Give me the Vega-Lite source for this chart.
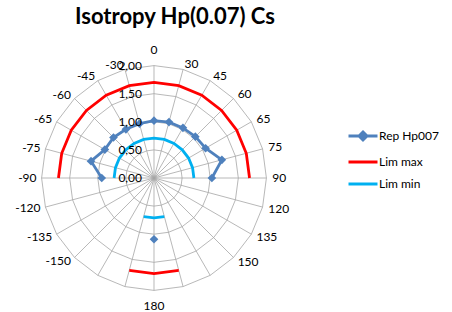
{
  "$schema": "https://vega.github.io/schema/vega-lite/v6.json",
  "width": 452,
  "height": 277,
  "padding": {"top": 35, "left": 0, "right": 0, "bottom": 0},
  "autosize": {"type": "none"},
  "background": "white",
  "title": {"text": "Isotropy Hp(0.07) Cs", "font": "Lato", "fontSize": 22, "fontWeight": "bold", "color": "#000000", "anchor": "middle", "dx": -51, "offset": 6},
  "config": {"font": "Lato", "view": {"stroke": null}},
  "data": {"values": [
    {"cat": "0", "Rep Hp007": 1.02, "Lim max": 1.7, "Lim min": 0.71},
    {"cat": "30", "Rep Hp007": 1.03, "Lim max": 1.7, "Lim min": 0.71},
    {"cat": "45", "Rep Hp007": 1.03, "Lim max": 1.7, "Lim min": 0.71},
    {"cat": "60", "Rep Hp007": 1.04, "Lim max": 1.7, "Lim min": 0.71},
    {"cat": "65", "Rep Hp007": 1.06, "Lim max": 1.7, "Lim min": 0.71},
    {"cat": "75", "Rep Hp007": 1.25, "Lim max": 1.7, "Lim min": 0.71},
    {"cat": "90", "Rep Hp007": 1.03, "Lim max": 1.7, "Lim min": 0.71},
    {"cat": "120", "Rep Hp007": null, "Lim max": null, "Lim min": null},
    {"cat": "135", "Rep Hp007": null, "Lim max": null, "Lim min": null},
    {"cat": "150", "Rep Hp007": null, "Lim max": null, "Lim min": null},
    {"cat": "", "Rep Hp007": null, "Lim max": null, "Lim min": null},
    {"cat": "", "Rep Hp007": null, "Lim max": 1.7, "Lim min": 0.71},
    {"cat": "180", "Rep Hp007": 1.09, "Lim max": 1.7, "Lim min": 0.71},
    {"cat": "", "Rep Hp007": null, "Lim max": 1.7, "Lim min": 0.71},
    {"cat": "", "Rep Hp007": null, "Lim max": null, "Lim min": null},
    {"cat": "-150", "Rep Hp007": null, "Lim max": null, "Lim min": null},
    {"cat": "-135", "Rep Hp007": null, "Lim max": null, "Lim min": null},
    {"cat": "-120", "Rep Hp007": null, "Lim max": null, "Lim min": null},
    {"cat": "-90", "Rep Hp007": 0.93, "Lim max": 1.7, "Lim min": 0.71},
    {"cat": "-75", "Rep Hp007": 1.16, "Lim max": 1.7, "Lim min": 0.71},
    {"cat": "-65", "Rep Hp007": 1.01, "Lim max": 1.7, "Lim min": 0.71},
    {"cat": "-60", "Rep Hp007": 1.02, "Lim max": 1.7, "Lim min": 0.71},
    {"cat": "-45", "Rep Hp007": 1.0, "Lim max": 1.7, "Lim min": 0.71},
    {"cat": "-30", "Rep Hp007": 1.0, "Lim max": 1.7, "Lim min": 0.71}
  ]},
  "transform": [
    {"window": [{"op": "row_number", "as": "n"}]},
    {"calculate": "(datum.n - 1) * PI / 12", "as": "ang"},
    {"calculate": "(datum.n + 5) % 24", "as": "ord"}
  ],
  "layer": [
    {
      "transform": [
        {"calculate": "[0.5, 1, 1.5, 2]", "as": "ring"},
        {"flatten": ["ring"]},
        {"calculate": "datum.ring * sin(datum.ang)", "as": "gx"},
        {"calculate": "datum.ring * cos(datum.ang)", "as": "gy"}
      ],
      "mark": {"type": "line", "interpolate": "linear-closed", "color": "#A6A6A6", "strokeWidth": 0.8},
      "encoding": {
        "x": {"field": "gx", "type": "quantitative", "scale": {"domain": [-2.7402, 5.3025], "nice": false, "zero": false}, "axis": null},
        "y": {"field": "gy", "type": "quantitative", "scale": {"domain": [-2.3843, 2.5445], "nice": false, "zero": false}, "axis": null},
        "detail": {"field": "ring"},
        "order": {"field": "n"}
      }
    },
    {
      "transform": [
        {"calculate": "2 * sin(datum.ang)", "as": "sx"},
        {"calculate": "2 * cos(datum.ang)", "as": "sy"}
      ],
      "mark": {"type": "rule", "color": "#A6A6A6", "strokeWidth": 0.8},
      "encoding": {
        "x": {"field": "sx", "type": "quantitative", "scale": {"domain": [-2.7402, 5.3025], "nice": false, "zero": false}, "axis": null},
        "y": {"field": "sy", "type": "quantitative", "scale": {"domain": [-2.3843, 2.5445], "nice": false, "zero": false}, "axis": null},
        "x2": {"datum": 0},
        "y2": {"datum": 0}
      }
    },
    {
      "transform": [
        {"fold": ["Rep Hp007", "Lim max", "Lim min"], "as": ["series", "value"]},
        {"calculate": "datum.value == null ? null : datum.value * sin(datum.ang)", "as": "px"},
        {"calculate": "datum.value == null ? null : datum.value * cos(datum.ang)", "as": "py"}
      ],
      "mark": {"type": "line", "strokeWidth": 2.8, "invalid": "break-paths-show-domains"},
      "encoding": {
        "x": {"field": "px", "type": "quantitative", "scale": {"domain": [-2.7402, 5.3025], "nice": false, "zero": false}, "axis": null},
        "y": {"field": "py", "type": "quantitative", "scale": {"domain": [-2.3843, 2.5445], "nice": false, "zero": false}, "axis": null},
        "color": {"field": "series", "type": "nominal",
                  "scale": {"domain": ["Rep Hp007", "Lim max", "Lim min"], "range": ["#4F81BD", "#FF0000", "#00B0F0"]},
                  "legend": {"orient": "none", "legendX": 347, "legendY": 85, "title": null, "symbolType": "stroke", "symbolSize": 841,
                             "symbolStrokeWidth": 3, "labelFont": "Lato", "labelFontSize": 12, "labelColor": "#000000", "labelOffset": 0,
                             "rowPadding": -1, "padding": 0,
                             "encode": {"symbols": {"update": {
                               "shape": {"signal": "datum.value === 'Rep Hp007' ? 'M-1,0L1,0M0,-0.27L0.27,0L0,0.27L-0.27,0Z' : 'stroke'"},
                               "fill": {"scale": "color", "field": "value"},
                               "stroke": {"scale": "color", "field": "value"}}}}}},
        "detail": {"field": "series"},
        "order": {"field": "ord"}
      }
    },
    {
      "transform": [
        {"filter": "datum['Rep Hp007'] != null"},
        {"calculate": "datum['Rep Hp007'] * sin(datum.ang)", "as": "px"},
        {"calculate": "datum['Rep Hp007'] * cos(datum.ang)", "as": "py"}
      ],
      "mark": {"type": "point", "shape": "diamond", "filled": true, "size": 75, "opacity": 1, "color": "#4F81BD"},
      "encoding": {
        "x": {"field": "px", "type": "quantitative", "scale": {"domain": [-2.7402, 5.3025], "nice": false, "zero": false}, "axis": null},
        "y": {"field": "py", "type": "quantitative", "scale": {"domain": [-2.3843, 2.5445], "nice": false, "zero": false}, "axis": null}
      }
    },
    {
      "transform": [
        {"filter": "datum.n == 1"},
        {"calculate": "[0, 0.5, 1, 1.5, 2]", "as": "tv"},
        {"flatten": ["tv"]},
        {"calculate": "replace(format(datum.tv, '.2f'), '.', ',')", "as": "tlabel"}
      ],
      "mark": {"type": "text", "align": "right", "baseline": "middle", "dx": -12, "font": "Lato", "fontSize": 12, "color": "#000000"},
      "encoding": {
        "x": {"datum": 0, "type": "quantitative", "scale": {"domain": [-2.7402, 5.3025], "nice": false, "zero": false}, "axis": null},
        "y": {"field": "tv", "type": "quantitative", "scale": {"domain": [-2.3843, 2.5445], "nice": false, "zero": false}, "axis": null},
        "text": {"field": "tlabel"}
      }
    },
    {
      "transform": [
        {"filter": "sin(datum.ang) > 0.01"},
        {"calculate": "2.105 * sin(datum.ang)", "as": "lx"},
        {"calculate": "2.105 * cos(datum.ang)", "as": "ly"}
      ],
      "mark": {"type": "text", "align": "left", "baseline": "middle", "font": "Lato", "fontSize": 12, "color": "#000000"},
      "encoding": {
        "x": {"field": "lx", "type": "quantitative", "scale": {"domain": [-2.7402, 5.3025], "nice": false, "zero": false}, "axis": null},
        "y": {"field": "ly", "type": "quantitative", "scale": {"domain": [-2.3843, 2.5445], "nice": false, "zero": false}, "axis": null},
        "text": {"field": "cat"}
      }
    },
    {
      "transform": [
        {"filter": "sin(datum.ang) < -0.01"},
        {"calculate": "2.09 * sin(datum.ang)", "as": "lx"},
        {"calculate": "2.09 * cos(datum.ang)", "as": "ly"}
      ],
      "mark": {"type": "text", "align": "right", "baseline": "middle", "font": "Lato", "fontSize": 12, "color": "#000000"},
      "encoding": {
        "x": {"field": "lx", "type": "quantitative", "scale": {"domain": [-2.7402, 5.3025], "nice": false, "zero": false}, "axis": null},
        "y": {"field": "ly", "type": "quantitative", "scale": {"domain": [-2.3843, 2.5445], "nice": false, "zero": false}, "axis": null},
        "text": {"field": "cat"}
      }
    },
    {
      "transform": [
        {"filter": "abs(sin(datum.ang)) <= 0.01"},
        {"calculate": "2.28 * sin(datum.ang)", "as": "lx"},
        {"calculate": "2.28 * cos(datum.ang)", "as": "ly"}
      ],
      "mark": {"type": "text", "align": "center", "baseline": "middle", "font": "Lato", "fontSize": 12, "color": "#000000"},
      "encoding": {
        "x": {"field": "lx", "type": "quantitative", "scale": {"domain": [-2.7402, 5.3025], "nice": false, "zero": false}, "axis": null},
        "y": {"field": "ly", "type": "quantitative", "scale": {"domain": [-2.3843, 2.5445], "nice": false, "zero": false}, "axis": null},
        "text": {"field": "cat"}
      }
    }
  ]
}
